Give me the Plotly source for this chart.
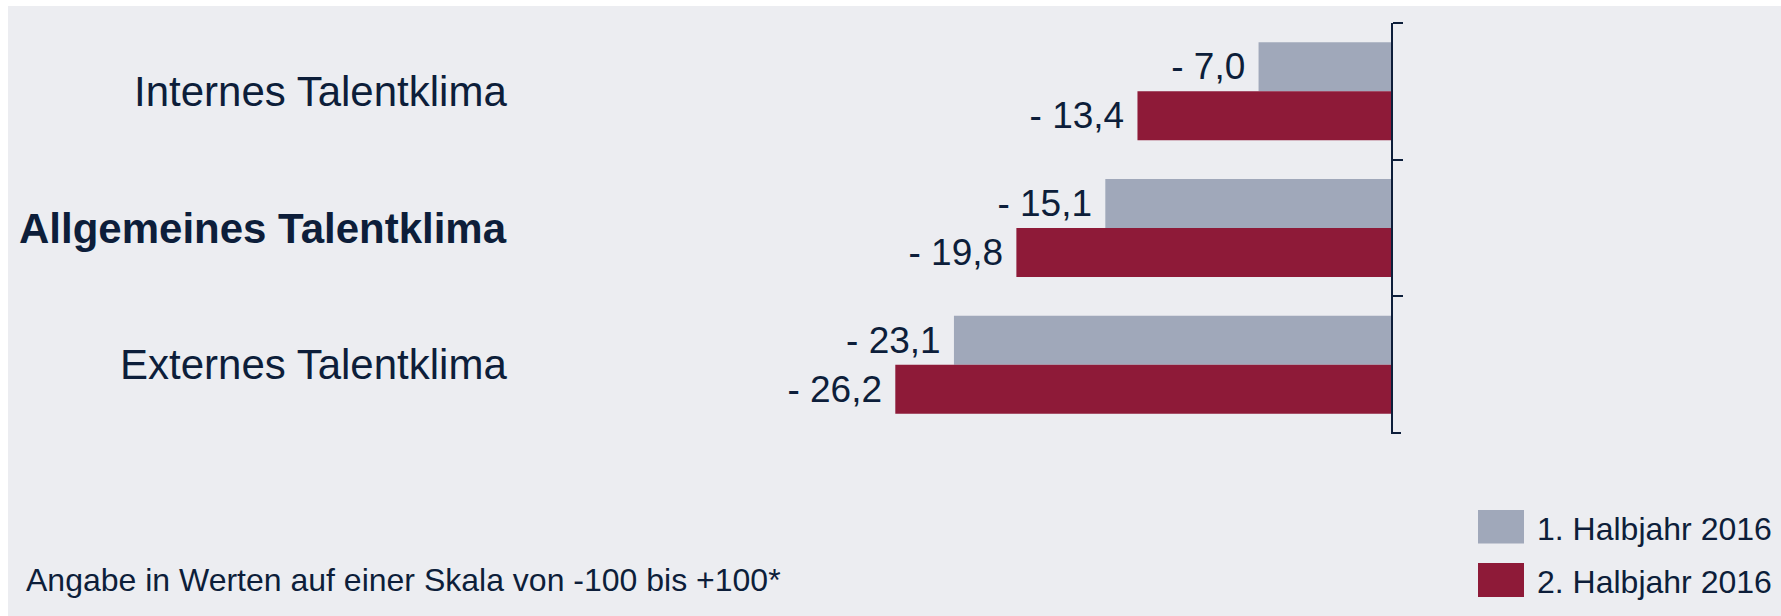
import plotly.graph_objects as go

# ---- data ----
categories = ["Internes Talentklima", "Allgemeines Talentklima", "Externes Talentklima"]
category_labels = ["Internes Talentklima", "<b>Allgemeines Talentklima</b>", "Externes Talentklima"]
series_names = ["1. Halbjahr 2016", "2. Halbjahr 2016"]
h1_values = [-7.0, -15.1, -23.1]
h2_values = [-13.4, -19.8, -26.2]
footnote = "Angabe in Werten auf einer Skala von -100 bis +100*"

# ---- style ----
W, H = 1781, 616
BG = "#ECEDF1"
GRAY = "#A0A8BA"
RED = "#8E1A38"
TXT = "#0D1E3A"
FONT = "Liberation Sans, Arial, sans-serif"

ML, MR, MT, MB = 0, 390, 23, 182
PW = W - ML - MR
PH = H - MT - MB
PX_PER_UNIT = 18.92


def px(xp):
    return (xp - ML) / PW


def py(yp):
    return (H - MB - yp) / PH


def fmt(v):
    return ("- " if v < 0 else "") + f"{abs(v):.1f}".replace(".", ",") + "\u00a0"


fig = go.Figure()
for name, vals, col in [(series_names[0], h1_values, GRAY), (series_names[1], h2_values, RED)]:
    fig.add_trace(go.Bar(
        name=name, y=categories, x=vals, orientation="h",
        marker=dict(color=col, line=dict(width=0)),
        text=[fmt(v) for v in vals], textposition="outside",
        textfont=dict(size=37, color=TXT, family=FONT),
        constraintext="none", cliponaxis=False,
        hoverinfo="skip",
    ))

shapes = [
    dict(type="rect", xref="paper", yref="paper", x0=px(8), x1=px(W + 5), y0=py(H + 5), y1=py(6),
         fillcolor=BG, line=dict(width=0), layer="below"),
    # closing tick at the bottom boundary of the category axis
    dict(type="line", xref="paper", yref="y", x0=1, x1=1 + 10 / PW,
         y0=len(categories) - 0.5, y1=len(categories) - 0.5, line=dict(color=TXT, width=2)),
]
annotations = []
for cat, lab in zip(categories, category_labels):
    annotations.append(dict(xref="paper", yref="y", x=px(509), y=cat, text=lab, showarrow=False,
                            xanchor="right", yanchor="middle",
                            font=dict(size=42, color=TXT, family=FONT)))

# legend (custom)
for name, col, (y0, y1) in [(series_names[0], GRAY, (510, 543.5)), (series_names[1], RED, (563, 597))]:
    shapes.append(dict(type="rect", xref="paper", yref="paper", x0=px(1478), x1=px(1524),
                       y0=py(y1), y1=py(y0), fillcolor=col, line=dict(width=0)))
    annotations.append(dict(xref="paper", yref="paper", x=px(1535), y=py((y0 + y1) / 2 + 2),
                            text=name, showarrow=False, xanchor="left", yanchor="middle",
                            font=dict(size=32, color=TXT, family=FONT)))

annotations.append(dict(xref="paper", yref="paper", x=px(24), y=py(580), text=footnote,
                        showarrow=False, xanchor="left", yanchor="middle",
                        font=dict(size=32, color=TXT, family=FONT)))

fig.update_layout(
    width=W, height=H,
    margin=dict(l=ML, r=MR, t=MT, b=MB, pad=0),
    paper_bgcolor="white", plot_bgcolor="rgba(0,0,0,0)",
    barmode="group", bargap=0.283, bargroupgap=0,
    showlegend=False,
    shapes=shapes, annotations=annotations,
    font=dict(family=FONT, color=TXT),
    xaxis=dict(range=[-PW / PX_PER_UNIT, 0], showgrid=False, zeroline=False,
               showticklabels=False, ticks="", showline=False, fixedrange=True),
    yaxis=dict(autorange="reversed", side="right", showgrid=False, zeroline=False,
               showticklabels=False, ticks="outside", tickson="boundaries",
               ticklen=10, tickwidth=2, tickcolor=TXT,
               showline=True, linewidth=2, linecolor=TXT, fixedrange=True),
)

fig.write_html("out.html", config={"displayModeBar": False})
